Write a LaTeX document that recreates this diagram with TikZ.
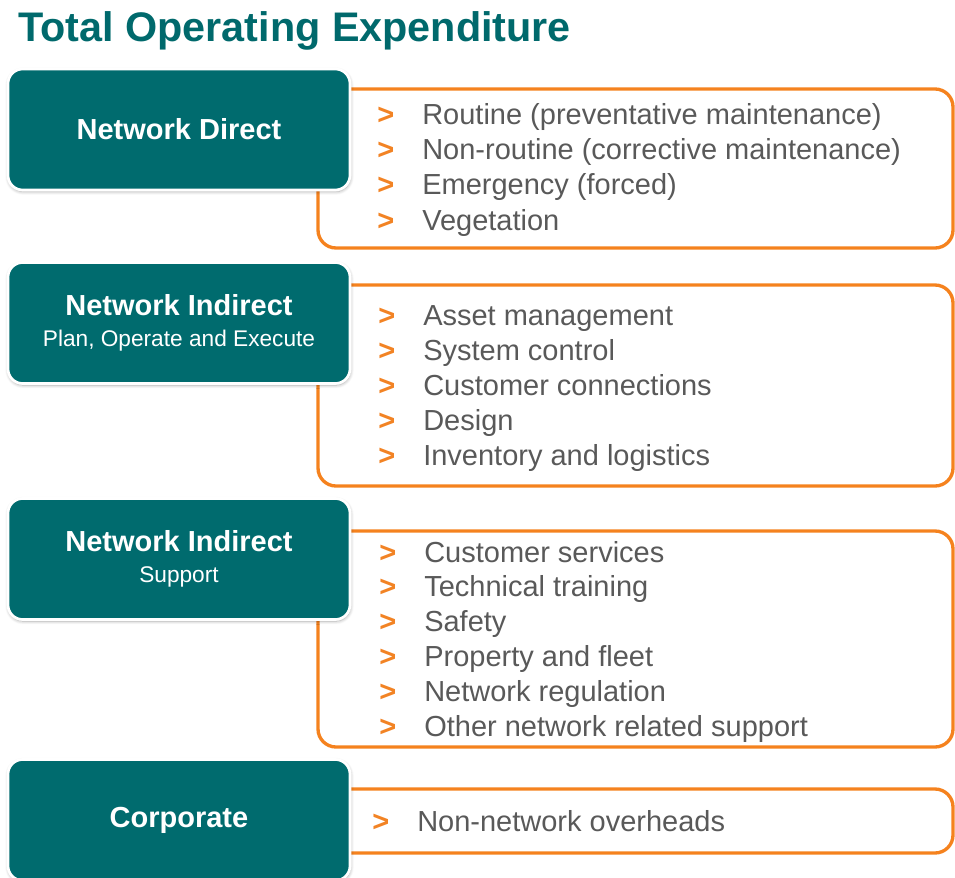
\documentclass[tikz,border=0pt]{standalone}
\usepackage{fontspec}
\setmainfont{Liberation Sans}
\usetikzlibrary{shadows.blur}
\definecolor{tealbox}{HTML}{006B6E}
\definecolor{titlecol}{HTML}{00696C}
\definecolor{framecol}{HTML}{F5821E}
\definecolor{bulcol}{HTML}{F28324}
\definecolor{itemcol}{HTML}{595959}
\newcommand{\bul}{\makebox[33.75pt][l]{\textcolor{bulcol}{\bfseries >}}}
\tikzset{
  catbox/.style={rectangle, rounded corners=11pt, fill=tealbox, draw=white,
    line width=2pt, minimum width=256.5pt, minimum height=90.75pt,
    text=white, align=center, font=\fontsize{21.75}{21.75}\selectfont\bfseries,
    blur shadow={shadow blur steps=6, shadow xshift=0.4pt, shadow yshift=-1.2pt,
      shadow blur radius=2.5pt, shadow opacity=35}},
  listframe/.style={framecol, line width=2.5pt, rounded corners=13.5pt},
  listitem/.style={anchor=base west, inner sep=0pt, text=itemcol,
    font=\fontsize{21.75}{26}\selectfont},
  heading/.style={anchor=base west, inner sep=0pt, text=titlecol,
    font=\fontsize{31}{31}\selectfont\bfseries}
}
\newcommand{\subline}[1]{{\fontsize{17}{21.75}\selectfont\mdseries #1}}

\begin{document}
\begin{tikzpicture}[x=0.75pt, y=-0.75pt]

  \useasboundingbox (0,0) rectangle (955,877);

  % Heading.
  \node[heading] (title) at (18,42) {Total Operating Expenditure};

  % Orange frames, drawn first so the teal boxes sit over their left ends.
  \draw[listframe] (318,89) rectangle (953,248);
  \draw[listframe] (318,285) rectangle (953,486);
  \draw[listframe] (318,531) rectangle (953,747);
  \draw[listframe] (318,789) rectangle (953,853);

  % Category boxes.
  \node[catbox] (direct) at (179,129.5) {Network Direct};
  \node[catbox] (plan) at (179,323)
    {Network Indirect\\[1.5pt]\subline{Plan, Operate and Execute}};
  \node[catbox] (support) at (179,559)
    {Network Indirect\\[1.5pt]\subline{Support}};
  \node[catbox] (corporate) at (179,820) {Corporate};

  % Items -- network direct.
  \foreach \txt [count=\i] in {{Routine (preventative maintenance)},
      {Non-routine (corrective maintenance)}, {Emergency (forced)}, {Vegetation}} {
    \node[listitem] (direct\i) at (377, {125+35*(\i-1)}) {\bul\txt};
  }

  % Items -- plan, operate and execute.
  \foreach \txt [count=\i] in {{Asset management}, {System control},
      {Customer connections}, {Design}, {Inventory and logistics}} {
    \node[listitem] (plan\i) at (378, {325+35*(\i-1)}) {\bul\txt};
  }

  % Items -- support.
  \foreach \txt [count=\i] in {{Customer services}, {Technical training},
      {Safety}, {Property and fleet}, {Network regulation},
      {Other network related support}} {
    \node[listitem] (support\i) at (379, {562+34.9*(\i-1)}) {\bul\txt};
  }

  % Items -- corporate.
  \node[listitem] (corporate1) at (372,831) {\bul Non-network overheads};

\end{tikzpicture}
\end{document}
